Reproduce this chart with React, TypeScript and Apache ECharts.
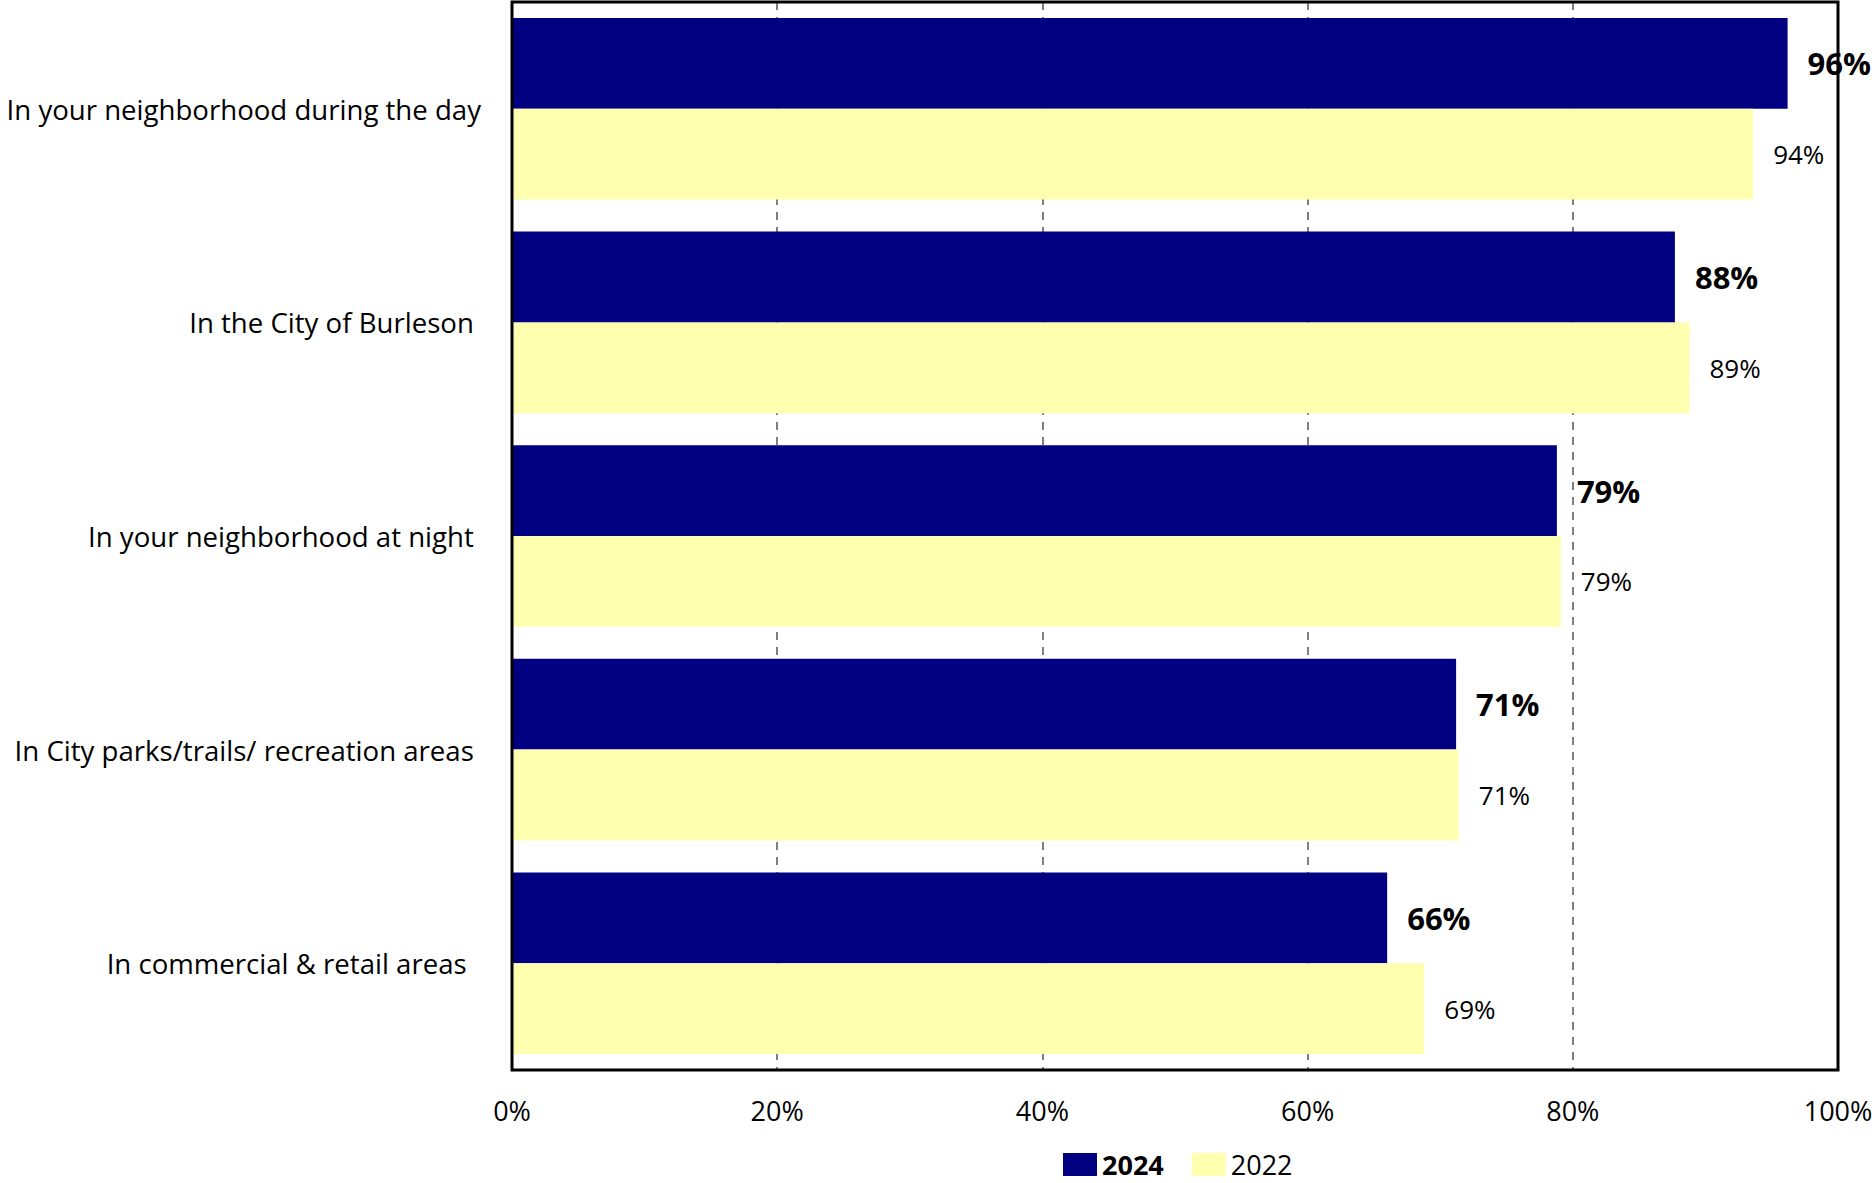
import React, { useEffect, useRef } from "react";
import * as echarts from "echarts";

const categories = [
  "In your neighborhood during the day",
  "In the City of Burleson ",
  "In your neighborhood at night ",
  "In City parks/trails/ recreation areas ",
  "In commercial & retail areas  ",
];
const series2024 = [96.2, 87.7, 78.8, 71.2, 66.0];
const series2022 = [93.6, 88.8, 79.1, 71.4, 68.8];
const xTicks = [0, 20, 40, 60, 80, 100];
const seriesNames = ["2024", "2022"];

const FONT = "Open Sans";

export default function App() {
  const ref = useRef<HTMLDivElement>(null);
  useEffect(() => {
    if (!ref.current) return;
    const chart = echarts.init(ref.current, null, { renderer: "svg" });
    chart.setOption({
      animation: false,
      backgroundColor: "#ffffff",
      textStyle: { fontFamily: FONT },
      grid: {
        left: 512,
        right: 37,
        top: 2,
        bottom: 113,
        show: true,
        borderColor: "#000000",
        borderWidth: 3,
        z: 10,
        containLabel: false,
        outerBoundsMode: "none",
      },
      legend: {
        left: 1058,
        top: 1146,
        itemWidth: 34,
        itemHeight: 23,
        itemGap: 28,
        icon: "rect",
        data: [
          { name: seriesNames[0], textStyle: { fontWeight: "bold" } },
          { name: seriesNames[1] },
        ],
        textStyle: {
          fontFamily: FONT,
          fontSize: 27,
          color: "#000",
        },
      },
      xAxis: {
        type: "value",
        min: xTicks[0],
        max: xTicks[xTicks.length - 1],
        interval: 20,
        axisLine: { show: false },
        axisTick: { show: false },
        axisLabel: {
          formatter: "{value}%",
          fontSize: 27,
          color: "#000",
          margin: 27,
          fontFamily: FONT,
        },
        splitLine: {
          show: true,
          lineStyle: { type: [8, 7], color: "#555", width: 1.5 },
        },
      },
      yAxis: {
        type: "category",
        inverse: true,
        data: categories,
        axisLine: { show: false },
        axisTick: { show: false },
        axisLabel: {
          fontSize: 27.6,
          color: "#000",
          margin: 31,
          fontFamily: FONT,
        },
      },
      series: [
        {
          name: seriesNames[0],
          type: "bar",
          data: series2024,
          barGap: "0%",
          barCategoryGap: "15%",
          itemStyle: { color: "#000080" },
          label: {
            show: true,
            position: "right",
            distance: 20,
            formatter: (p: any) => `${Math.round(p.value)}%`,
            fontSize: 31,
            fontWeight: "bold",
            color: "#000",
            fontFamily: FONT,
          },
          z: 2,
        },
        {
          name: seriesNames[1],
          type: "bar",
          data: series2022,
          barGap: "0%",
          barCategoryGap: "15%",
          itemStyle: { color: "#FFFFB0" },
          label: {
            show: true,
            position: "right",
            distance: 20,
            formatter: (p: any) => `${Math.round(p.value)}%`,
            fontSize: 26,
            color: "#000",
            fontFamily: FONT,
          },
          z: 2,
        },
      ],
    });
    return () => chart.dispose();
  }, []);
  return (
    <div
      ref={ref}
      style={{ position: "fixed", left: 0, top: 0, width: 1875, height: 1183 }}
    />
  );
}
